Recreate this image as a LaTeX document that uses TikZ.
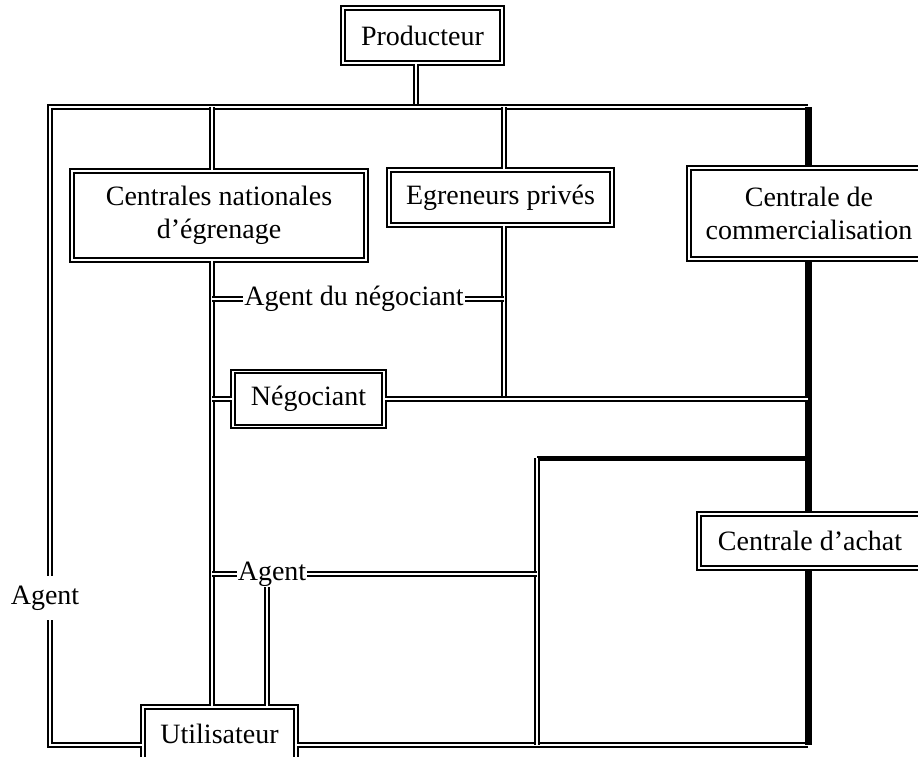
\documentclass[tikz,border=0pt]{standalone}
\usepackage{fontspec}
\setmainfont{Liberation Serif}
\usetikzlibrary{positioning}
\tikzset{
  box/.style={draw,double,double distance=1.5pt,line width=2pt,fill=white,align=center,inner sep=0pt},
  link/.style={double,double distance=2pt,line width=2pt},
  heavy/.style={line width=7pt},
  lbl/.style={inner sep=1pt},
}
\begin{document}
\begin{tikzpicture}[x=1pt,y=-1pt,font=\fontsize{28}{33}\selectfont]
  \useasboundingbox (0,0) rectangle (918,756);
  \node[box,minimum width=159,minimum height=55] (prod) at (422.5,35.5) {Producteur};
  \node[box,minimum width=294,minimum height=89] (cn) at (219,215.5) {Centrales nationales\\d’égrenage};
  \node[box,minimum width=223,minimum height=55] (eg) at (500.5,197.5) {Egreneurs privés};
  \node[box,minimum width=240,minimum height=91] (cc) at (809,213.5) {Centrale de\\commercialisation};
  \node[box,minimum width=151,minimum height=55] (neg) at (308.5,399) {Négociant};
  \node[box,minimum width=222,minimum height=54] (ca) at (810,541) {Centrale d’achat};
  \node[box,minimum width=153,minimum height=53] (util) at (219.5,733.5) {Utilisateur};
  \node[lbl] (adn) at (354,299) {Agent du négociant};
  \node[lbl] (am) at (272,574) {Agent};
  \node[lbl,inner ysep=10pt] (al) at (45,598) {Agent};
  \coordinate (tl) at (50,107);
  \coordinate (tr) at (808,107);
  \coordinate (bl) at (50,745);
  \coordinate (br) at (808,745);
  \coordinate (c1) at (212,107);
  \coordinate (c2) at (504,107);
  \coordinate (c3) at (537,458);
  \draw[link] (prod.south -| 416,0) -- (416,0 |- tl);
  \draw[link] (tr) -- (tl) -- (tl |- al.north);
  \draw[link] (tl |- al.south) -- (bl) -- (util.west |- bl);
  \draw[link] (util.east |- bl) -- (br);
  \draw[heavy] (tr) -- (tr |- cc.north);
  \draw[heavy] (tr |- cc.south) -- (tr |- ca.north);
  \draw[heavy] (tr |- ca.south) -- (br);
  \draw[link] (c1) -- (c1 |- cn.north);
  \draw[link] (c1 |- cn.south) -- (c1 |- util.north);
  \draw[link] (c2) -- (c2 |- eg.north);
  \draw[link] (c2 |- eg.south) -- (c2 |- neg.east);
  \draw[link] (c1 |- adn.west) -- (adn.west);
  \draw[link] (adn.east) -- (c2 |- adn.east);
  \draw[link] (c1 |- neg.west) -- (neg.west);
  \draw[link] (neg.east) -- (tr |- neg.east);
  \draw[line width=5pt] (tr |- c3) -- (c3);
  \draw[link] (c3) -- (c3 |- bl);
  \draw[link] (c1 |- am.west) -- (am.west);
  \draw[link] (am.east) -- (c3 |- am.east);
  \draw[link] (am.south -| 267,0) -- (util.north -| 267,0);
\end{tikzpicture}
\end{document}
